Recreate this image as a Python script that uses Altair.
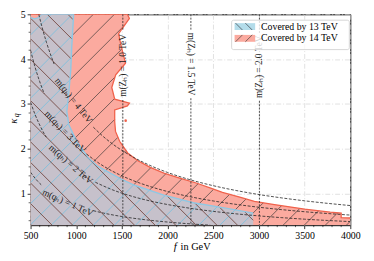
import altair as alt
import pandas as pd
import numpy as np

FONT = "Liberation Serif"
W, H = 326, 215
XMIN, XMAX = 500, 4000
YMIN, YMAX = 0.3, 5.0

# ---- regions (f in GeV, kappa_q) ----
f13 = [500, 500, 540, 580, 620, 972, 951, 940, 919, 897, 919, 1005, 1133, 1239, 1488, 1638, 1960, 2282, 2636, 2937, 2937]
k13 = [0.3, 4.93, 4.90, 4.92, 5.0, 5.0, 4.28, 3.76, 3.26, 2.83, 2.54, 2.17, 1.80, 1.61, 1.33, 1.19, 0.97, 0.80, 0.68, 0.57, 0.3]

f14 = [500, 500, 1560, 1582, 1464, 1485, 1539, 1432, 1389, 1421, 1582, 1560, 1421, 1421, 1430, 1475, 1563, 1670,
       1810, 1960, 2132, 2314, 2480, 2600, 2800, 2950, 3170, 3500, 3780, 3900, 3900, 4000, 4000]
k14 = [0.3, 5.0, 5.0, 4.91, 4.57, 4.35, 3.91, 3.65, 3.37, 3.11, 3.02, 2.96, 2.87, 2.61, 2.39, 2.17, 1.91, 1.74,
       1.59, 1.46, 1.35, 1.24, 1.12, 1.03, 0.92, 0.83, 0.76, 0.66, 0.59, 0.57, 0.47, 0.46, 0.3]

dot_f = [1541]
dot_k = [2.63]

# ---- m(q_H) contour lines (two pieces each, gap under the label) ----
mq_lines = {
    "1a": ([500, 550, 600, 629], [1.48, 1.345, 1.233, 1.176]),
    "1b": ([1187, 1300, 1500, 1750, 2000, 2250, 2467], [0.623, 0.569, 0.493, 0.423, 0.37, 0.329, 0.30]),
    "2a": ([500, 550, 600, 650, 672], [3.04, 2.764, 2.533, 2.338, 2.262]),
    "2b": ([1209, 1400, 1600, 1800, 2000, 2250, 2500, 2750, 3000, 3250, 3500, 3750, 4000],
           [1.257, 1.086, 0.95, 0.844, 0.76, 0.676, 0.608, 0.553, 0.507, 0.468, 0.434, 0.405, 0.38]),
    "3a": ([500, 550, 600, 650], [4.2, 3.818, 3.5, 3.231]),
    "3b": ([1112, 1250, 1400, 1600, 1800, 2000, 2250, 2500, 2750, 3000, 3250, 3500, 3750, 4000],
           [1.888, 1.68, 1.5, 1.3125, 1.167, 1.05, 0.933, 0.84, 0.764, 0.70, 0.646, 0.60, 0.56, 0.525]),
    "4a": ([590, 625, 675, 725, 758], [5.0, 4.72, 4.37, 4.069, 3.892]),
    "4b": ([1187, 1300, 1400, 1600, 1800, 2000, 2250, 2500, 2750, 3000, 3250, 3500, 3750, 4000],
           [2.485, 2.269, 2.107, 1.844, 1.639, 1.475, 1.311, 1.18, 1.073, 0.983, 0.908, 0.843, 0.787, 0.7375]),
}
mq_text = ["m(qₕ) = 1 TeV", "m(qₕ) = 2 TeV", "m(qₕ) = 3 TeV", "m(qₕ) = 4 TeV"]
mq_lab_f = [908, 940, 880, 972]
mq_lab_k = [0.80, 1.66, 2.38, 3.08]
mq_lab_ang = [24, 41, 46, 52]

# ---- m(Z_H) vertical lines ----
mz_f = [1510, 2255, 3005]
mz_text = ["m(Zₕ) = 1.0 TeV", "m(Zₕ) = 1.5 TeV", "m(Zₕ) = 2.0 TeV"]
mz_gap_top = [4.63, 4.65, 4.58]
mz_gap_bot = [3.09, 3.13, 3.07]
mz_lab_k = [3.86, 3.89, 3.83]
mz_ang = [270, 90, 270]

x_ticks = [500, 1000, 1500, 2000, 2500, 3000, 3500, 4000]
y_ticks = [1, 2, 3, 4, 5]
x_minor = [600, 700, 800, 900, 1100, 1200, 1300, 1400, 1600, 1700, 1800, 1900, 2100, 2200, 2300, 2400,
           2600, 2700, 2800, 2900, 3100, 3200, 3300, 3400, 3600, 3700, 3800, 3900]
y_minor = [0.4, 0.6, 0.8, 1.2, 1.4, 1.6, 1.8, 2.2, 2.4, 2.6, 2.8, 3.2, 3.4, 3.6, 3.8, 4.2, 4.4, 4.6, 4.8]

# ---------------------------------------------------------------
xs = alt.Scale(domain=[XMIN, XMAX], nice=False, zero=False)
ys = alt.Scale(domain=[YMIN, YMAX], nice=False, zero=False)


def to_px(f, k):
    return (f - XMIN) / (XMAX - XMIN) * W, (YMAX - k) / (YMAX - YMIN) * H


def to_data(x, y):
    return XMIN + x / W * (XMAX - XMIN), YMAX - y / H * (YMAX - YMIN)


def hatch(fs, ks, direction, spacing, phase):
    pts = [to_px(f, k) for f, k in zip(fs, ks)]
    n = len(pts)

    def val(p):
        return p[0] + p[1] if direction > 0 else p[0] - p[1]

    vals = [val(p) for p in pts]
    lo, hi = min(vals), max(vals)
    c = phase + np.ceil((lo - phase) / spacing) * spacing
    rows = []
    while c <= hi:
        xsx = []
        for i in range(n):
            p1, p2 = pts[i], pts[(i + 1) % n]
            s1, s2 = val(p1) - c, val(p2) - c
            if (s1 > 0) != (s2 > 0):
                t = s1 / (s1 - s2)
                xsx.append(p1[0] + t * (p2[0] - p1[0]))
        xsx.sort()
        for a, b in zip(xsx[0::2], xsx[1::2]):
            ya = c - a if direction > 0 else a - c
            yb = c - b if direction > 0 else b - c
            fa, ka = to_data(a, ya)
            fb, kb = to_data(b, yb)
            rows.append({"f": fa, "k": ka, "f2": fb, "k2": kb})
        c += spacing
    return pd.DataFrame(rows)


def poly_df(fs, ks):
    return pd.DataFrame({"f": fs, "k": ks, "i": range(len(fs))})


xaxis = alt.Axis(values=x_ticks, title=None, grid=True, gridColor="#d9d9d9", gridDash=[5, 2, 1, 2],
                 gridWidth=0.8, labelFont=FONT, labelFontSize=10, labelColor="black", tickColor="black",
                 tickSize=3.5, tickWidth=0.8, domain=False, labelPadding=2, labelFlush=False, format="d")
yaxis = alt.Axis(values=y_ticks, title=None, grid=True, gridColor="#d9d9d9", gridDash=[5, 2, 1, 2],
                 gridWidth=0.8, labelFont=FONT, labelFontSize=10, labelColor="black", tickColor="black",
                 tickSize=3.5, tickWidth=0.8, domain=False, labelPadding=2, format="d")


def X(field="f"):
    return alt.X(f"{field}:Q", scale=xs, axis=xaxis)


def Y(field="k"):
    return alt.Y(f"{field}:Q", scale=ys, axis=yaxis)


RED_FILL = "#fbaa9f"
GRAY_FILL = "#c6c1cb"
RED_EDGE = "#f0624c"
BLUE_EDGE = "#8fc8e4"

layers = []

# 14 TeV region
p14 = poly_df(f14, k14)
layers.append(alt.Chart(p14).mark_line(fill=RED_FILL, strokeWidth=0, clip=True).encode(
    x=X(), y=Y(), order="i:Q"))
h14 = hatch(f14, k14, +1, 21.5, 494)
layers.append(alt.Chart(h14).mark_rule(color="#4f4342", strokeWidth=0.9, opacity=0.85, clip=True).encode(
    x=X(), y=Y(), x2="f2:Q", y2="k2:Q"))
e14 = p14.iloc[1:-1]
layers.append(alt.Chart(e14).mark_line(color=RED_EDGE, strokeWidth=1.3, clip=True).encode(
    x=X(), y=Y(), order="i:Q"))
layers.append(alt.Chart(pd.DataFrame({"f": dot_f, "k": dot_k})).mark_circle(size=7, color=RED_EDGE, opacity=1).encode(
    x=X(), y=Y()))

# 13 TeV region
p13 = poly_df(f13, k13)
layers.append(alt.Chart(p13).mark_line(fill=GRAY_FILL, strokeWidth=0, clip=True).encode(
    x=X(), y=Y(), order="i:Q"))
h13a = hatch(f13, k13, +1, 21.5, 494)
layers.append(alt.Chart(h13a).mark_rule(color="#86c0da", strokeWidth=1.0, clip=True).encode(
    x=X(), y=Y(), x2="f2:Q", y2="k2:Q"))
h13b = hatch(f13, k13, -1, 21, -193 - 31 + 10)
layers.append(alt.Chart(h13b).mark_rule(color="#7b5550", strokeWidth=1.0, clip=True).encode(
    x=X(), y=Y(), x2="f2:Q", y2="k2:Q"))
e13 = p13.iloc[1:-1]
layers.append(alt.Chart(e13).mark_line(color=BLUE_EDGE, strokeWidth=1.4, clip=True).encode(
    x=X(), y=Y(), order="i:Q"))

# m(q_H) contour lines
rows = []
for key, (fs, ks) in mq_lines.items():
    for j, (f, k) in enumerate(zip(fs, ks)):
        rows.append({"f": f, "k": k, "seg": key, "i": j})
mq_df = pd.DataFrame(rows)
layers.append(alt.Chart(mq_df).mark_line(color="#222222", strokeWidth=0.8, strokeDash=[3, 1.6],
                                         interpolate="monotone", clip=True).encode(
    x=X(), y=Y(), detail="seg:N", order="i:Q"))
mq_lab = pd.DataFrame({"f": mq_lab_f, "k": mq_lab_k, "t": mq_text, "a": mq_lab_ang})
layers.append(alt.Chart(mq_lab).mark_text(font=FONT, fontSize=9.5, color="#222222", align="center",
                                          baseline="middle").encode(
    x=X(), y=Y(), text="t:N", angle=alt.Angle("a:Q", scale=None)))

# m(Z_H) vertical lines
vrows = []
for f, gt, gb in zip(mz_f, mz_gap_top, mz_gap_bot):
    vrows.append({"f": f, "k": YMAX, "k2": gt})
    vrows.append({"f": f, "k": gb, "k2": YMIN})
layers.append(alt.Chart(pd.DataFrame(vrows)).mark_rule(color="#222222", strokeWidth=0.8,
                                                       strokeDash=[2, 1.4]).encode(
    x=X(), y=Y(), y2="k2:Q"))
mz_lab = pd.DataFrame({"f": mz_f, "k": mz_lab_k, "t": mz_text, "a": mz_ang})
layers.append(alt.Chart(mz_lab).mark_text(font=FONT, fontSize=9.5, color="#222222", align="center",
                                          baseline="middle").encode(
    x=X(), y=Y(), text="t:N", angle=alt.Angle("a:Q", scale=None)))

# minor ticks (outside the frame)
layers.append(alt.Chart(pd.DataFrame({"f": x_minor})).mark_rule(color="black", strokeWidth=0.6).encode(
    x=X(), y=alt.value(H), y2=alt.value(H + 2)))
layers.append(alt.Chart(pd.DataFrame({"k": y_minor})).mark_rule(color="black", strokeWidth=0.6).encode(
    y=Y(), x=alt.value(0), x2=alt.value(-2)))

# legend (drawn by hand)
one = pd.DataFrame({"a": [0]})
layers.append(alt.Chart(one).mark_rect(fill="white", fillOpacity=0.8, stroke="#cccccc", strokeWidth=0.8,
                                       cornerRadius=2).encode(
    x=alt.value(205), x2=alt.value(325), y=alt.value(6), y2=alt.value(36)))
layers.append(alt.Chart(one).mark_rect(fill="#b3dcea").encode(
    x=alt.value(208), x2=alt.value(229), y=alt.value(9), y2=alt.value(16)))
layers.append(alt.Chart(one).mark_rect(fill=RED_FILL).encode(
    x=alt.value(208), x2=alt.value(229), y=alt.value(21), y2=alt.value(28)))
for x0 in [209, 219]:
    layers.append(alt.Chart(one).mark_rule(color="#556068", strokeWidth=0.9).encode(
        x=alt.value(x0), x2=alt.value(x0 + 7), y=alt.value(9), y2=alt.value(16)))
    layers.append(alt.Chart(one).mark_rule(color="#6a5550", strokeWidth=0.9).encode(
        x=alt.value(x0), x2=alt.value(x0 + 7), y=alt.value(28), y2=alt.value(21)))
leg_text = ["Covered by 13 TeV", "Covered by 14 TeV"]
for t, yy in zip(leg_text, [12.7, 24.7]):
    layers.append(alt.Chart(one).mark_text(font=FONT, fontSize=10, color="black", align="left",
                                           baseline="middle").encode(
        x=alt.value(235), y=alt.value(yy), text=alt.value(t)))

# axis titles drawn by hand (italic symbols)
layers.append(alt.Chart(one).mark_text(font=FONT, fontSize=11, fontStyle="italic", color="black",
                                       align="left", baseline="alphabetic").encode(
    x=alt.value(146), y=alt.value(240), text=alt.value("f")))
layers.append(alt.Chart(one).mark_text(font=FONT, fontSize=10.5, color="black",
                                       align="left", baseline="alphabetic").encode(
    x=alt.value(153), y=alt.value(240), text=alt.value("in GeV")))
layers.append(alt.Chart(one).mark_text(font=FONT, fontSize=11, fontStyle="italic", color="black",
                                       align="center", baseline="middle", angle=270).encode(
    x=alt.value(-17), y=alt.value(109), text=alt.value("κ")))
layers.append(alt.Chart(one).mark_text(font=FONT, fontSize=8, fontStyle="italic", color="black",
                                       align="center", baseline="middle", angle=270).encode(
    x=alt.value(-14), y=alt.value(103), text=alt.value("q")))

chart = alt.layer(*layers).properties(
    width=W, height=H, autosize="none",
    padding={"left": 23, "top": 4, "right": 16, "bottom": 30},
).configure_view(stroke="black", strokeWidth=1)

chart.save("out.html", embed_options={"renderer": "svg", "actions": False})
